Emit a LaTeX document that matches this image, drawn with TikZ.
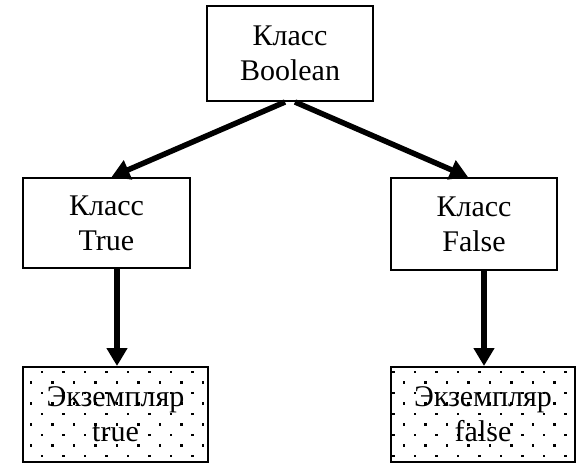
\documentclass[tikz,border=0pt]{standalone}
\usepackage{fontspec}
\setmainfont{Liberation Serif}
\usetikzlibrary{arrows.meta}
\begin{document}
\begin{tikzpicture}[x=1pt,y=-1pt,
  box/.style={draw,line width=2pt,rectangle,align=center,inner sep=0pt,
    font=\fontsize{30}{35}\selectfont},
  arr/.style={line width=5.5pt,-{Triangle[length=18pt,width=20pt]}},
  dot/.style={fill=black}]
\useasboundingbox (0,0) rectangle (578,464);
\node[box,minimum width=166pt,minimum height=95pt] (bool) at (290,53.5) {Класс\\Boolean};
\node[box,minimum width=167pt,minimum height=90pt] (tr) at (106.5,223) {Класс\\True};
\node[box,minimum width=166pt,minimum height=92pt] (fa) at (474,224) {Класс\\False};
% instance boxes with dot pattern
\begin{scope}
\clip (23,367) rectangle (208,462);
\foreach \r in {0,...,9} {
  \pgfmathsetmacro{\yy}{372+10.5*\r}
  \pgfmathsetmacro{\off}{mod(\r,2)==0 ? 42 : 31}
  \foreach \c in {-1,...,8} {
    \fill[dot] ({\off+21.5*\c-1.3},{\yy-1.3}) rectangle ++(2.6,2.6);
  }
}
\end{scope}
\begin{scope}
\clip (391,367) rectangle (575,462);
\foreach \r in {0,...,9} {
  \pgfmathsetmacro{\yy}{372+10.5*\r}
  \pgfmathsetmacro{\off}{mod(\r,2)==0 ? 415 : 404}
  \foreach \c in {-1,...,8} {
    \fill[dot] ({\off+21.5*\c-1.3},{\yy-1.3}) rectangle ++(2.6,2.6);
  }
}
\end{scope}
\node[box,minimum width=185pt,minimum height=95pt] (it) at (115.5,414.5) {Экземпляр\\true};
\node[box,minimum width=184pt,minimum height=95pt] (if) at (483,414.5) {Экземпляр\\false};
\draw[arr] ([xshift=-5pt]bool.south) -- ([xshift=5pt]tr.north);
\draw[arr] ([xshift=5pt]bool.south) -- ([xshift=-6pt]fa.north);
\draw[arr] ([xshift=10.5pt]tr.south) -- ([xshift=1.5pt]it.north);
\draw[arr] ([xshift=10pt]fa.south) -- ([xshift=1pt]if.north);
\end{tikzpicture}
\end{document}
